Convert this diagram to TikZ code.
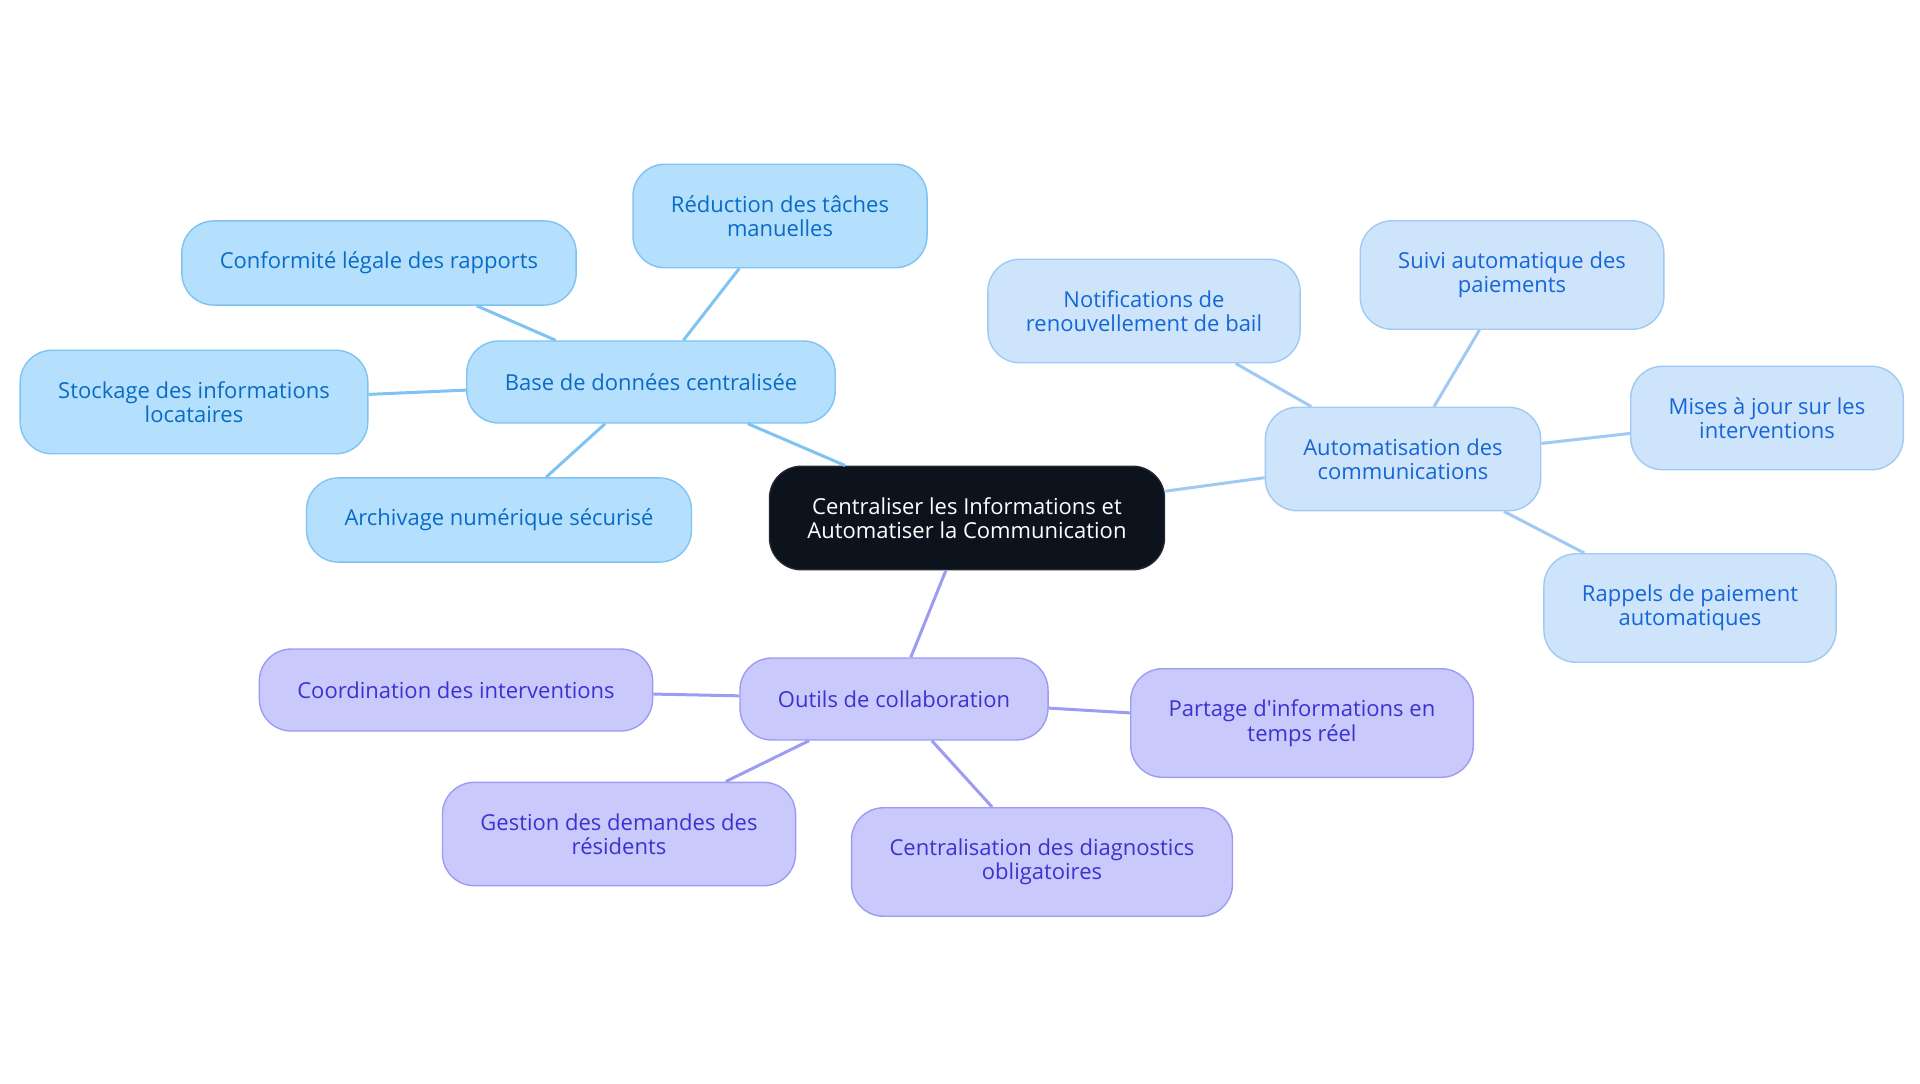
\documentclass[tikz,border=0pt]{standalone}
\usepackage{fontspec}
\setmainfont{Open Sans}
\definecolor{rootfill}{HTML}{0C131D}
\definecolor{basefill}{HTML}{B4E0FD}
\definecolor{basedraw}{HTML}{7EC3F2}
\definecolor{basetext}{HTML}{0A6BC6}
\definecolor{autofill}{HTML}{CDE4FB}
\definecolor{autodraw}{HTML}{A0C9F3}
\definecolor{autotext}{HTML}{1566D6}
\definecolor{outfill}{HTML}{C9C9FC}
\definecolor{outdraw}{HTML}{9C9CF2}
\definecolor{outtext}{HTML}{3A33D0}
\tikzset{
  box/.style={rectangle,rounded corners=16pt,align=center,inner xsep=19pt,inner ysep=15.5pt,
    minimum height=41pt,font=\fontsize{11}{12.25}\selectfont,line width=0.7pt},
  rootbox/.style={box,fill=rootfill,draw=rootfill!80!gray,text=white},
  basebox/.style={box,fill=basefill,draw=basedraw,text=basetext},
  autobox/.style={box,fill=autofill,draw=autodraw,text=autotext},
  outbox/.style={box,fill=outfill,draw=outdraw,text=outtext},
}
\begin{document}
\begin{tikzpicture}[x=0.5pt,y=-0.5pt]
  \useasboundingbox (0,0) rectangle (1920,1083);
  % centre
  \node[rootbox] (root) at (967,518) {Centraliser les Informations et\\Automatiser la Communication};
  % base de donnees
  \node[basebox] (base) at (651,382) {Base de données centralisée};
  \node[basebox] (reduc) at (780,216) {Réduction des tâches\\manuelles};
  \node[basebox] (conf) at (379,263) {Conformité légale des rapports};
  \node[basebox] (stock) at (194,402) {Stockage des informations\\locataires};
  \node[basebox] (arch) at (499,520) {Archivage numérique sécurisé};
  % automatisation
  \node[autobox] (auto) at (1403,459) {Automatisation des\\communications};
  \node[autobox] (notif) at (1144,311) {Notifications de\\renouvellement de bail};
  \node[autobox] (suivi) at (1512,275) {Suivi automatique des\\paiements};
  \node[autobox] (maj) at (1767,418) {Mises à jour sur les\\interventions};
  \node[autobox] (rapp) at (1690,608) {Rappels de paiement\\automatiques};
  % outils
  \node[outbox] (outils) at (894,699) {Outils de collaboration};
  \node[outbox] (coord) at (456,690) {Coordination des interventions};
  \node[outbox] (part) at (1302,723) {Partage d\textquotesingle informations en\\temps réel};
  \node[outbox] (gest) at (619,834) {Gestion des demandes des\\résidents};
  \node[outbox] (diag) at (1042,862) {Centralisation des diagnostics\\obligatoires};
  % liens
  \draw[basedraw,line width=1.5pt] (root) -- (base);
  \foreach \n in {reduc,conf,stock,arch}
    \draw[basedraw,line width=1.5pt] (base) -- (\n);
  \draw[autodraw,line width=1.5pt] (root) -- (auto);
  \foreach \n in {notif,suivi,maj,rapp}
    \draw[autodraw,line width=1.5pt] (auto) -- (\n);
  \draw[outdraw,line width=1.5pt] (root) -- (outils);
  \foreach \n in {coord,part,gest,diag}
    \draw[outdraw,line width=1.5pt] (outils) -- (\n);
\end{tikzpicture}
\end{document}
